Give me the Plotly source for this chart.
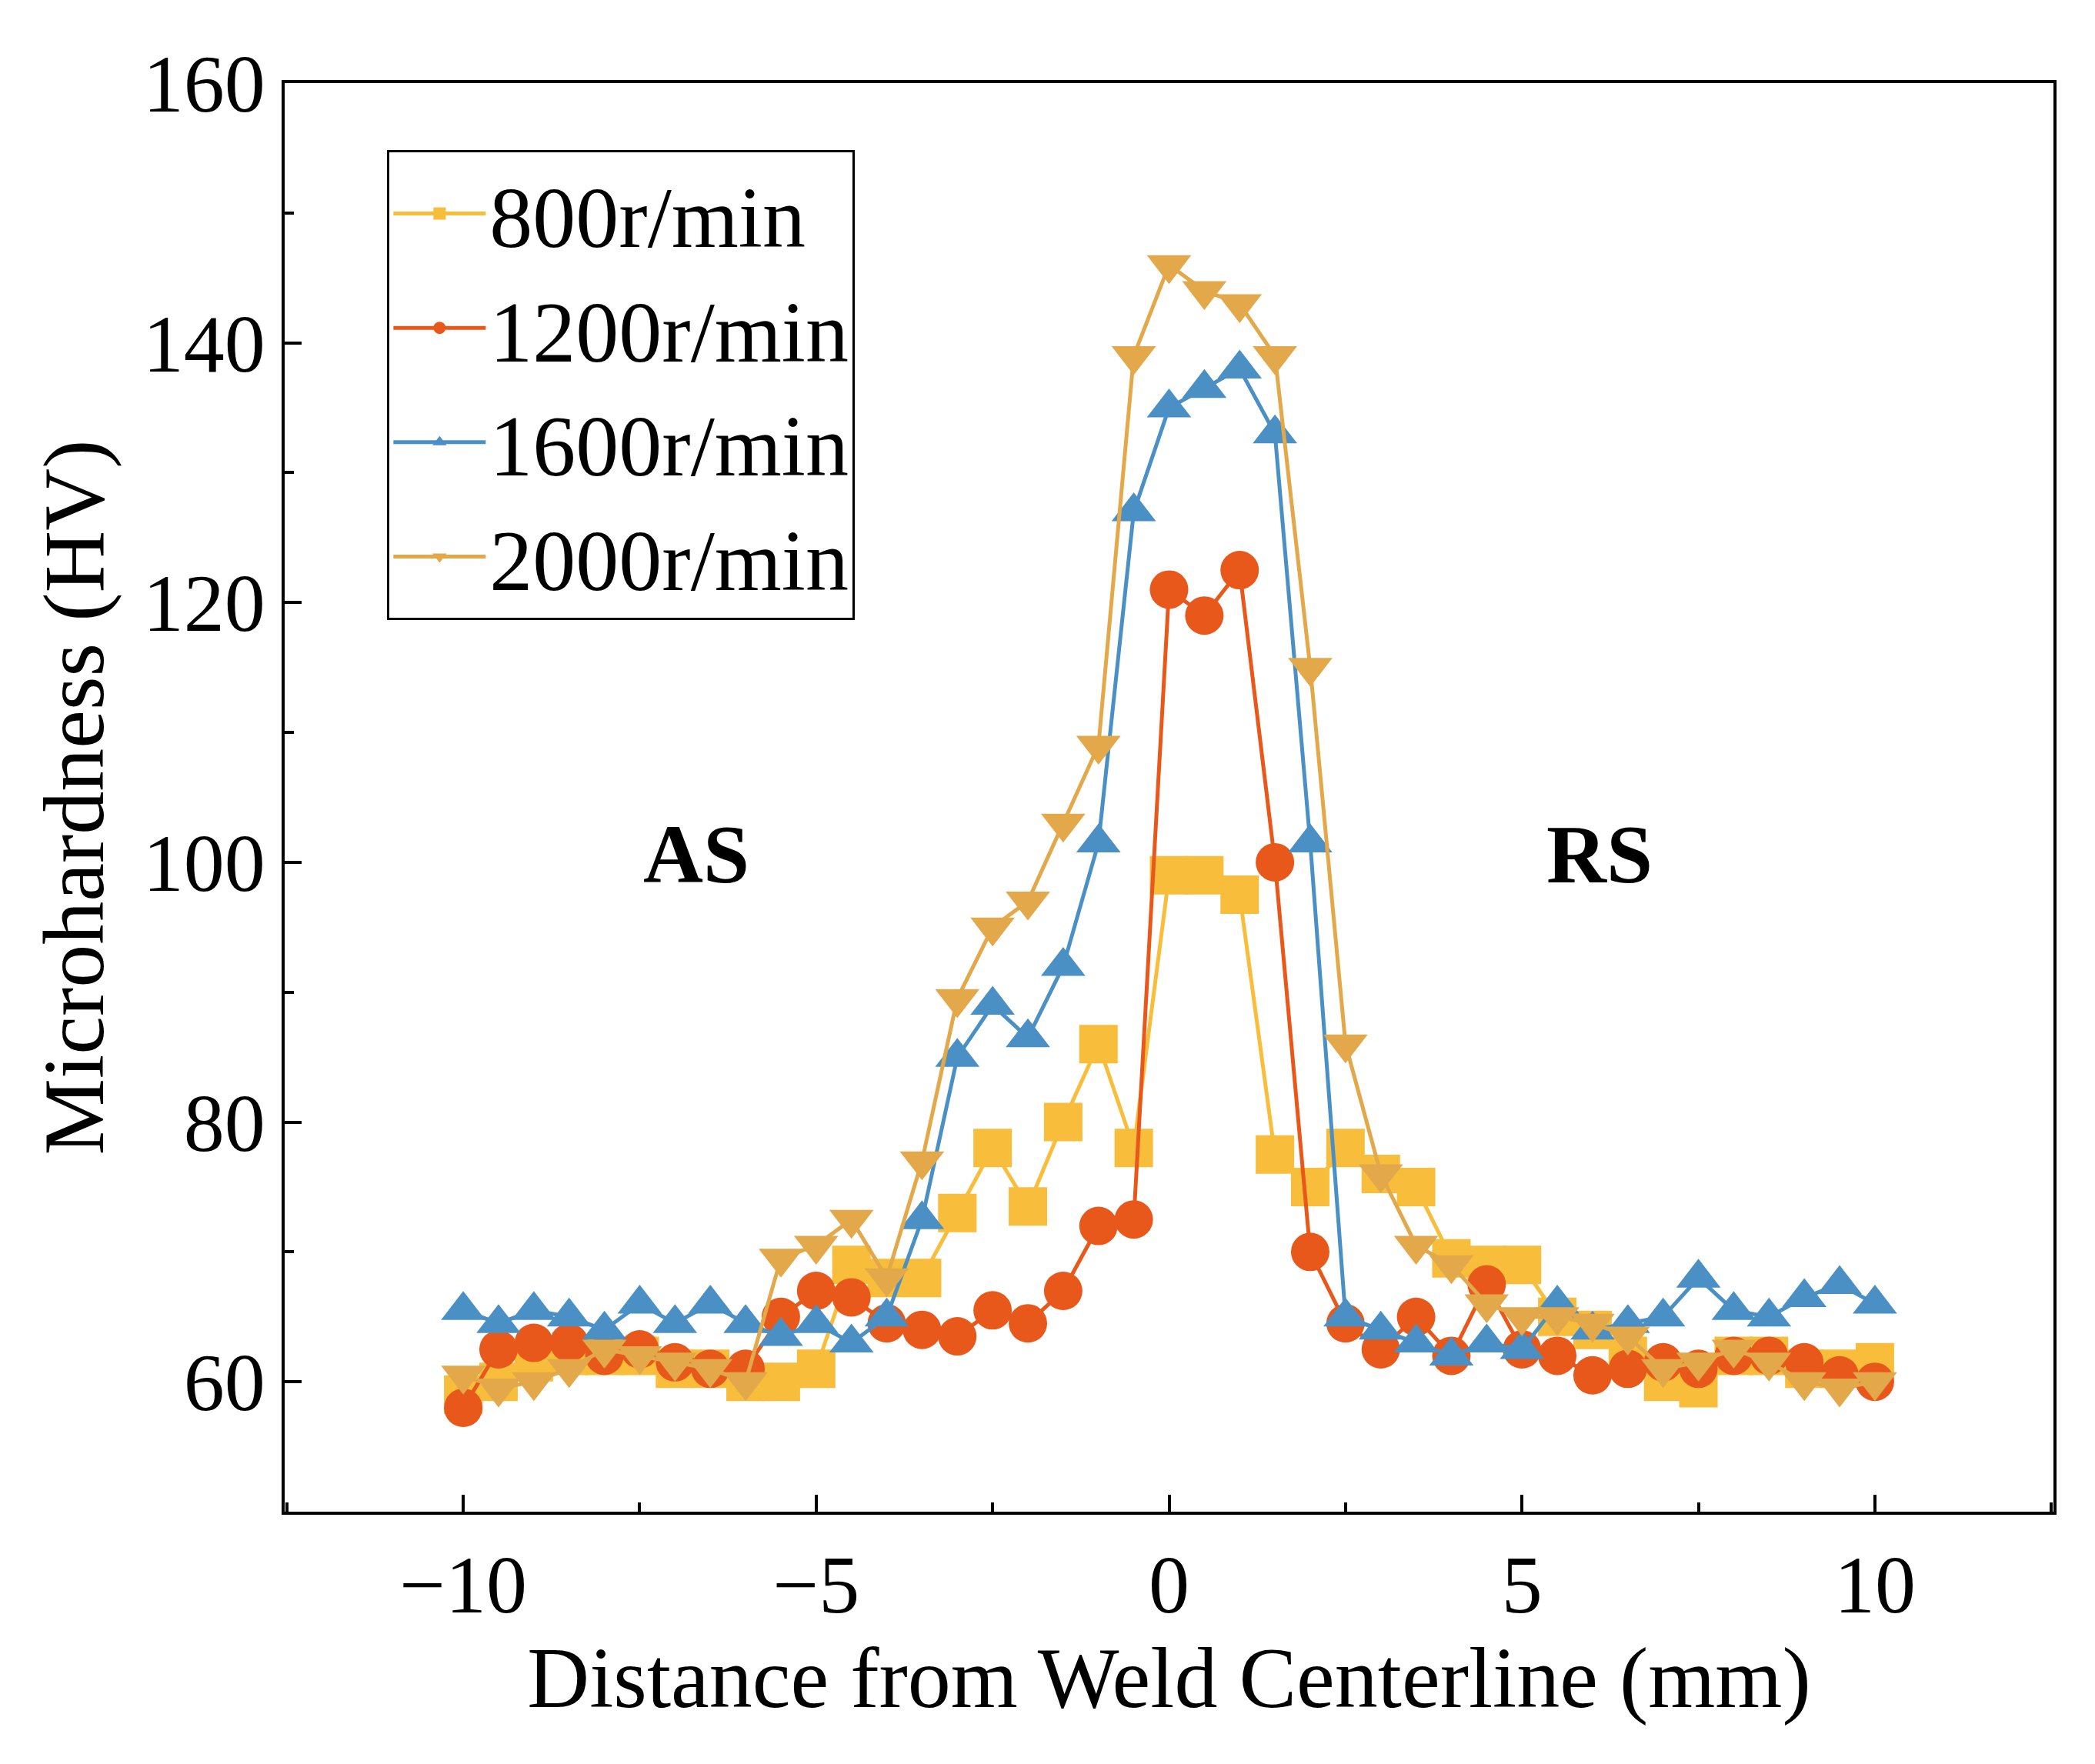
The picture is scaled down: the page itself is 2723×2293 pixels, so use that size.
import plotly.graph_objects as go

# distance from weld centerline (mm), 0.5 mm step
distance = [i * 0.5 for i in range(-20, 21)]

hv_800 = [59, 60, 61.5, 62, 62, 62, 61, 61, 60, 60, 61, 69, 68, 68, 73, 78, 73.5, 80, 86, 78,
          99, 99, 97.5, 77.5, 75, 78, 76, 75, 69.5, 69, 69, 65, 64, 62, 60, 59.5, 62, 62, 61, 61, 61.5]
hv_1200 = [58, 62.5, 63, 63, 62, 62.5, 61.5, 61, 61, 65, 67, 66.5, 64.5, 64, 63.5, 65.5, 64.5, 67, 72, 72.5,
           121, 119, 122.5, 100, 70, 64.5, 62.5, 65, 62, 67.5, 62.5, 62, 60.5, 61, 61.5, 61, 62, 62, 61.5, 60.5, 60]
hv_1600 = [65.5, 64.5, 65.5, 65, 64, 66, 64.5, 66, 64.5, 63.5, 64.5, 63, 65, 72.5, 85, 89, 86.5, 92, 101.5, 127,
           135, 136.5, 138, 133, 101.5, 65, 64, 63, 62, 63, 62.5, 66, 64, 64.5, 65, 68, 65.5, 65, 66.5, 67.5, 66]
hv_2000 = [60.5, 59.5, 60, 61, 62.5, 62, 61.5, 61, 60, 69.5, 70.5, 72.5, 68, 77, 89.5, 95, 97, 103, 109, 139,
           146, 144, 143, 139, 115, 86, 76, 70.5, 69, 66, 65, 65, 64.5, 63.5, 61, 61.5, 62.5, 61.5, 60, 59.5, 60]

series = [
    ("800r/min", hv_800, "#F9BD3C", "square"),
    ("1200r/min", hv_1200, "#E8581A", "circle"),
    ("1600r/min", hv_1600, "#4A90C4", "triangle-up"),
    ("2000r/min", hv_2000, "#E2A84A", "triangle-down"),
]

font = "Liberation Serif, Times New Roman, serif"

fig = go.Figure()
for name, vals, color, sym in series:
    fig.add_trace(go.Scatter(
        x=distance, y=vals, name=name, mode="lines+markers",
        line=dict(color=color, width=5),
        marker=dict(symbol=sym, size=50, color=color),
    ))

fig.add_annotation(x=-6.7, y=100.6, text="<b>AS</b>", showarrow=False,
                   font=dict(family=font, size=108, color="black"))
fig.add_annotation(x=6.1, y=100.6, text="<b>RS</b>", showarrow=False,
                   font=dict(family=font, size=108, color="black"))

axis_common = dict(
    showline=True, linecolor="black", linewidth=4, mirror=True,
    ticks="inside", ticklen=22, tickwidth=4, tickcolor="black",
    showgrid=False, zeroline=False,
    tickfont=dict(family=font, size=106, color="black"),
    title_font=dict(family=font, size=112, color="black"),
)

fig.update_xaxes(range=[-12.53, 12.53], tickvals=[-10, -5, 0, 5, 10],
                 ticktext=["\u221210", "\u22125", "0", "5", "10"],
                 minor=dict(dtick=2.5, ticks="inside", ticklen=12, tickwidth=4, tickcolor="black"),
                 title_text="Distance from Weld Centerline (mm)", title_standoff=15, **axis_common)
fig.update_yaxes(range=[50, 160], dtick=20, tick0=60,
                 minor=dict(dtick=10, ticks="inside", ticklen=12, tickwidth=4, tickcolor="black"),
                 title_text="Microhardness (HV)", title_standoff=15, **axis_common)

fig.update_layout(
    width=2723, height=2293,
    margin=dict(l=362, r=62, t=100, b=336),
    plot_bgcolor="white", paper_bgcolor="white",
    legend=dict(x=0.058, y=0.953, xanchor="left", yanchor="top",
                bordercolor="black", borderwidth=3, bgcolor="white",
                font=dict(family=font, size=112, color="black"),
                itemwidth=120, tracegroupgap=0),
)

fig.write_html("out.html")
